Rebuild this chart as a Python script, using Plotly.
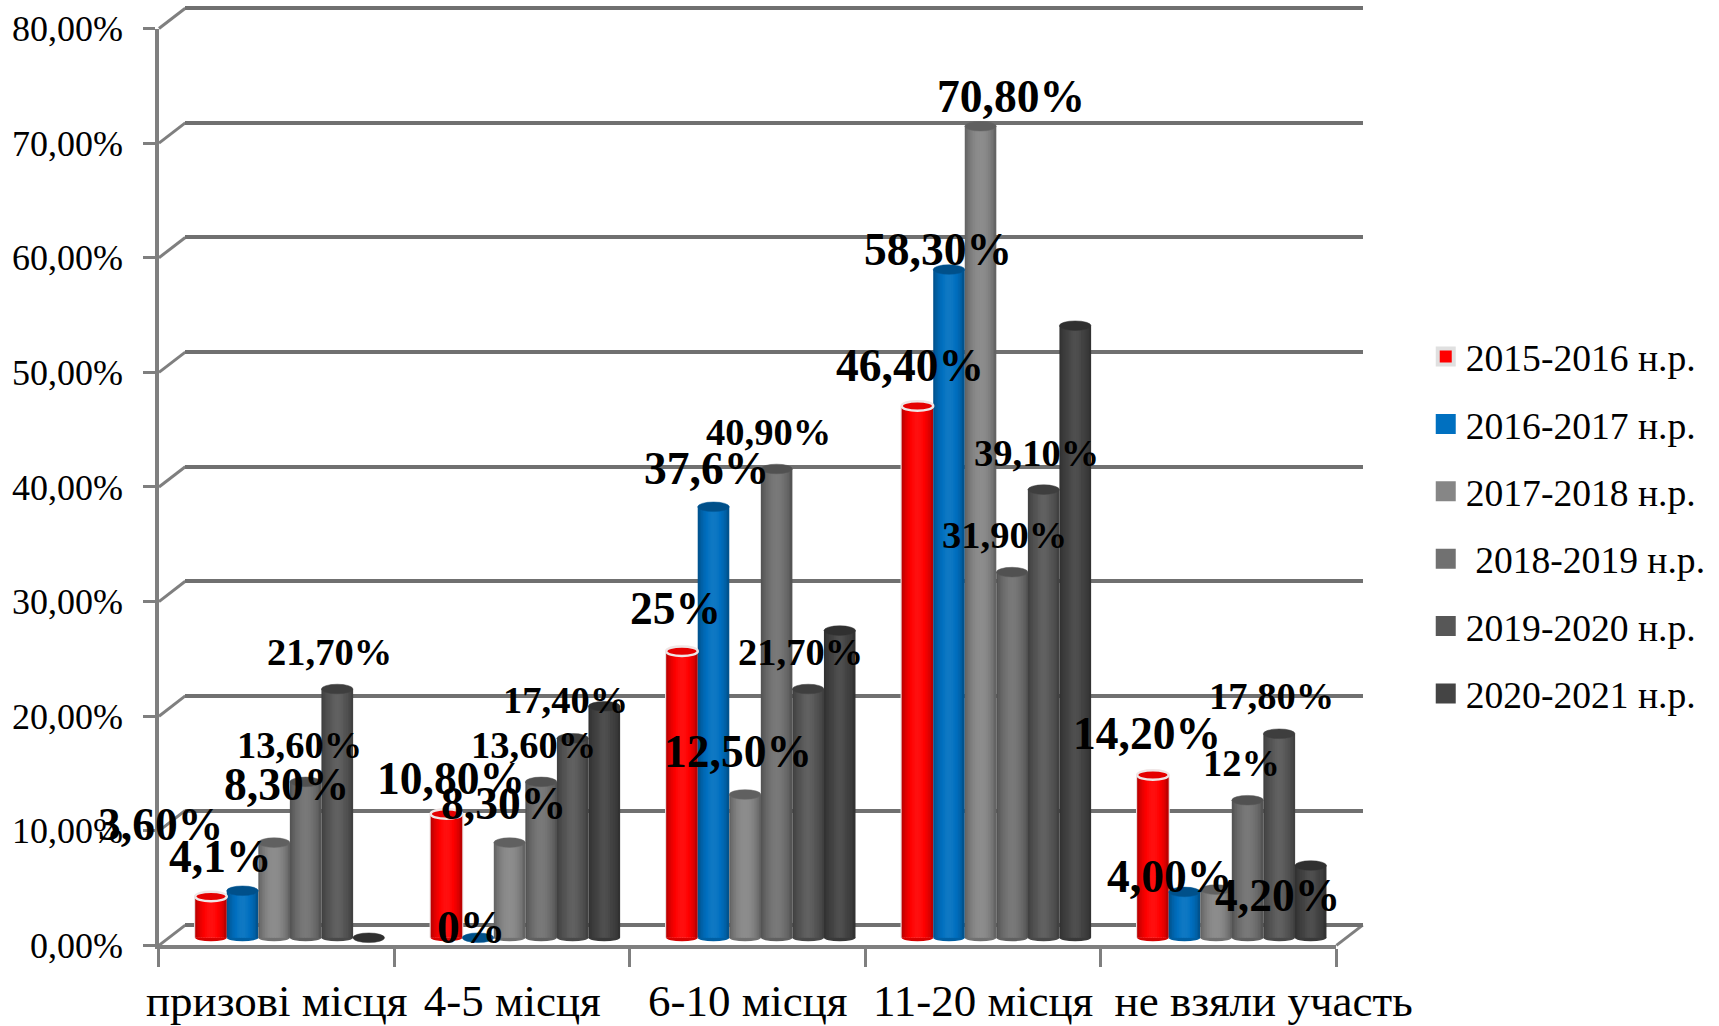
import math
import plotly.graph_objects as go

W, H = 1719, 1026
SX, SY = W / 1568, H / 936

categories = ["призові місця", "4-5 місця", "6-10 місця", "11-20 місця", "не взяли участь"]
series_names = ["2015-2016 н.р.", "2016-2017 н.р.", "2017-2018 н.р.", "\u00a02018-2019 н.р.", "2019-2020 н.р.", "2020-2021 н.р."]
v2015 = [3.6, 10.8, 25.0, 46.4, 14.2]
v2016 = [4.1, 0.0, 37.6, 58.3, 4.0]
v2017 = [8.3, 8.3, 12.5, 70.8, 4.2]
v2018 = [13.6, 13.6, 40.9, 31.9, 12.0]
v2019 = [21.7, 17.4, 21.7, 39.1, 17.8]
v2020 = [0.0, 20.2, 26.8, 53.4, 6.3]
series_values = [v2015, v2016, v2017, v2018, v2019, v2020]
y_ticks = [0, 10, 20, 30, 40, 50, 60, 70, 80]
y_tick_labels = ["0,00%", "10,00%", "20,00%", "30,00%", "40,00%", "50,00%", "60,00%", "70,00%", "80,00%"]
colors = ["#ff0000", "#0070c0", "#868686", "#717171", "#575757", "#444444"]

BIG, SMALL = 45.5, 38.5
# data labels: text, centre in reference-scaled px, font size
labels = [
    ("3,60%", 146, 752, BIG), ("4,1%", 201, 781, BIG), ("8,30%", 261, 716, BIG),
    ("13,60%", 273, 680, SMALL), ("21,70%", 301, 595, SMALL),
    ("10,80%", 411, 710, BIG), ("0%", 430, 846, BIG), ("8,30%", 459, 733, BIG),
    ("13,60%", 487, 680, SMALL), ("17,40%", 516, 639, SMALL),
    ("25%", 616, 555, BIG), ("37,6%", 644, 427, BIG), ("12,50%", 673, 686, BIG),
    ("40,90%", 701, 394, SMALL), ("21,70%", 730, 595, SMALL),
    ("46,40%", 830, 333, BIG), ("58,30%", 856, 228, BIG), ("70,80%", 922, 88, BIG),
    ("31,90%", 916, 488, SMALL), ("39,10%", 945, 413, SMALL),
    ("14,20%", 1046, 669, BIG), ("4,00%", 1067, 800, BIG), ("12%", 1132, 696, SMALL),
    ("17,80%", 1160, 635, SMALL), ("4,20%", 1165, 817, BIG),
]

# geometry in page px
XL, XR = 145 * SX, 1219 * SX
Y0, Y80 = 862.5 * SY, 26 * SY
BACK_DX, BACK_DY = 24 * SX, -18.5 * SY
BAR_DX, BAR_DY = 12 * SX, -7 * SY
PX_PER_UNIT = (Y0 - Y80) / 80
BAR_YMIN = -1.5
BACK_PAD = 0.4
GRID = "#707070"
AXIS = "#7f7f7f"
FONT = "Liberation Serif"


def fx(px):
    return px / W


def fy(px):
    return 1 - px / H


def shade(hex_color, f):
    r, g, b = int(hex_color[1:3], 16), int(hex_color[3:5], 16), int(hex_color[5:7], 16)
    if f <= 1:
        r, g, b = r * f, g * f, b * f
    else:
        r, g, b = r + (255 - r) * (f - 1), g + (255 - g) * (f - 1), b + (255 - b) * (f - 1)
    return f"rgb({int(r)},{int(g)},{int(b)})"


fig = go.Figure()
n_cat = len(categories)
x_range = [-0.5, n_cat - 0.5]
idx = list(range(n_cat))
BAR_W = 0.134
N_STRIPS = 19
# cylinder shading across the bar width: darker at the edges, brightest in the middle
ramp = [0.70 + 0.36 * math.sin(math.pi * (k + 0.5) / N_STRIPS) ** 0.8 for k in range(N_STRIPS)]
shapes = []

# back wall placeholder trace
fig.add_trace(go.Scatter(x=[None], y=[None], xaxis="x", yaxis="y", showlegend=False, hoverinfo="skip"))

for s, (name, vals, col) in enumerate(zip(series_names, series_values, colors)):
    xs = [i + (s - 2.5) * BAR_W for i in idx]
    if s == 0:
        fig.add_trace(go.Bar(x=xs, y=vals, width=BAR_W * 1.07, offset=-BAR_W * 0.535, marker=dict(color="#eadfdf", line_width=0),
                             xaxis="x2", yaxis="y2", showlegend=False, hoverinfo="skip"))
    sw = BAR_W / N_STRIPS
    for k, f in enumerate(ramp):
        fig.add_trace(go.Bar(x=xs, y=vals, width=sw * 1.6 if k < N_STRIPS - 1 else sw,
                             offset=-BAR_W / 2 + k * sw,
                             marker=dict(color=shade(col, f), line_width=0),
                             xaxis="x2", yaxis="y2", showlegend=False, hoverinfo="skip"))
    for x, v in zip(xs, vals):
        if v > 0:
            shapes.append(dict(type="circle", xref="x2", yref="y2", layer="below",
                               x0=x - BAR_W / 2, x1=x + BAR_W / 2, y0=-0.3, y1=0.3,
                               fillcolor=shade(col, 0.85), line_width=0))
        shapes.append(dict(type="circle", xref="x2", yref="y2", layer="above",
                           x0=x - BAR_W / 2, x1=x + BAR_W / 2, y0=v - 0.42, y1=v + 0.42,
                           fillcolor=shade(col, 0.72 if s else 0.9),
                           line=dict(color="#efe6e6" if s == 0 else shade(col, 0.78), width=2.5 if s == 0 else 0.5)))
    # legend entry
    fig.add_trace(go.Scatter(x=[None], y=[None], name=name, mode="markers", xaxis="x2", yaxis="y2",
                             legendgroup=name,
                             marker=dict(symbol="square", size=16, color=col,
                                         line=dict(color="#e0e0e0" if s == 0 else col, width=4))))

# front axis holder
fig.add_trace(go.Scatter(x=[None], y=[None], xaxis="x3", yaxis="y3", showlegend=False, hoverinfo="skip"))

# floor / wall connectors
for t in y_ticks:
    y_front = Y0 - t * PX_PER_UNIT
    shapes.append(dict(type="line", xref="paper", yref="paper", layer="below",
                       x0=fx(XL), y0=fy(y_front), x1=fx(XL + BACK_DX), y1=fy(y_front + BACK_DY),
                       line=dict(color=AXIS, width=3)))
shapes.append(dict(type="line", xref="paper", yref="paper", layer="below",
                   x0=fx(XR), y0=fy(Y0), x1=fx(XR + BACK_DX), y1=fy(Y0 + BACK_DY),
                   line=dict(color=AXIS, width=3)))

annotations = [
    dict(text=f"<b>{t}</b>", xref="paper", yref="paper", x=fx(px * SX), y=fy(py * SY),
         xanchor="center", yanchor="middle", showarrow=False,
         font=dict(family=FONT, size=sz, color="black"))
    for t, px, py, sz in labels
]

minor_ticks = [i - 0.5 for i in range(n_cat + 1)]
tick_text = categories[:-1] + ["\u00a0" * 8 + categories[-1]]

fig.update_layout(
    template="none",
    width=W, height=H, margin=dict(l=0, r=0, t=0, b=0, pad=0),
    paper_bgcolor="white", plot_bgcolor="rgba(0,0,0,0)",
    barmode="overlay", shapes=shapes, annotations=annotations,
    font=dict(family=FONT, color="black"),
    legend=dict(x=fx(1300.5 * SX), y=fy(297 * SY), xanchor="left", yanchor="top",
                font=dict(family=FONT, size=37.6, color="black"), tracegroupgap=15.5,
                bgcolor="rgba(0,0,0,0)", itemwidth=30),
    # back wall
    xaxis=dict(domain=[fx(XL + BACK_DX), fx(XR + BACK_DX)], range=x_range, visible=False, anchor="y"),
    yaxis=dict(domain=[fy(Y0 + BACK_DY + BACK_PAD * PX_PER_UNIT), fy(Y80 + BACK_DY - BACK_PAD * PX_PER_UNIT)],
               range=[-BACK_PAD, 80 + BACK_PAD], tickvals=y_ticks, showticklabels=False,
               ticks="", showgrid=True, gridcolor=GRID, gridwidth=3.5, zeroline=False, showline=False, anchor="x"),
    # bars
    xaxis2=dict(domain=[fx(XL + BAR_DX), fx(XR + BAR_DX)], range=x_range, visible=False, anchor="y2"),
    yaxis2=dict(domain=[fy(Y0 + BAR_DY - BAR_YMIN * PX_PER_UNIT), fy(Y80 + BAR_DY)], range=[BAR_YMIN, 80],
                visible=False, anchor="x2"),
    # front axes
    xaxis3=dict(domain=[fx(XL), fx(XR)], range=x_range, tickvals=idx, ticktext=tick_text, ticks="outside",
                ticklen=13, tickcolor="rgba(0,0,0,0)", showgrid=False, zeroline=False,
                showline=True, linecolor=AXIS, linewidth=3.5, anchor="y3",
                tickfont=dict(family=FONT, size=45, color="black"), tickangle=0,
                minor=dict(tickvals=minor_ticks, ticks="outside", ticklen=18, tickwidth=3, tickcolor=AXIS, showgrid=False)),
    yaxis3=dict(domain=[fy(Y0), fy(Y80)], range=[0, 80], tickvals=y_ticks, ticktext=y_tick_labels, ticks="outside",
                ticklen=12, tickwidth=3, tickcolor=AXIS, showgrid=False, zeroline=False,
                showline=True, linecolor=AXIS, linewidth=3.5, anchor="x3", ticklabelstandoff=13,
                tickfont=dict(family=FONT, size=36, color="black")),
)

fig.write_html("out.html", config={"displayModeBar": False},
               post_script="document.body.style.margin='0';document.body.style.overflow='hidden';")
